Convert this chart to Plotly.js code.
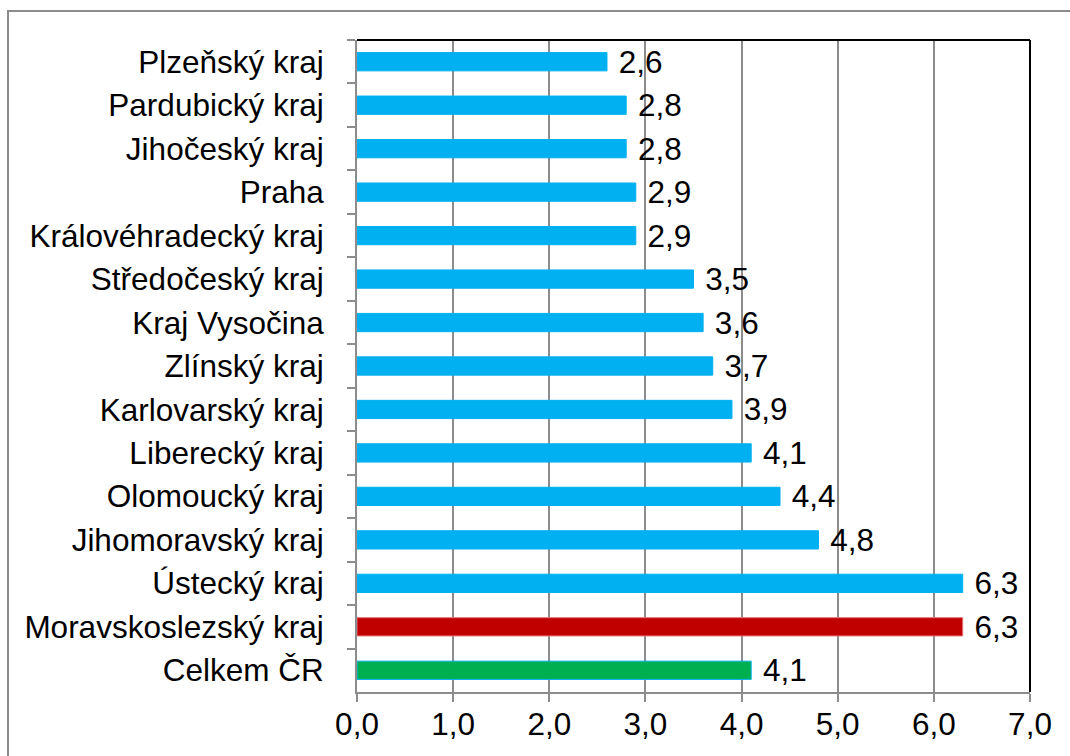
<!DOCTYPE html>
<html>
<head>
<meta charset="utf-8">
<script src="https://cdn.plot.ly/plotly-3.0.1.min.js"></script>
<style>
  html, body { margin: 0; padding: 0; background: #fff; overflow: hidden; }
  #frame { position: absolute; left: 7px; top: 10px; width: 1100px; height: 800px; border: 2px solid #8c8c8c; }
  #chart { position: absolute; left: 0; top: 0; width: 1070px; height: 756px; }
</style>
</head>
<body>
<div id="frame"></div>
<div id="chart"></div>
<script>
const categories = [
  "Plzeňský kraj", "Pardubický kraj", "Jihočeský kraj", "Praha",
  "Královéhradecký kraj", "Středočeský kraj", "Kraj Vysočina", "Zlínský kraj",
  "Karlovarský kraj", "Liberecký kraj", "Olomoucký kraj", "Jihomoravský kraj",
  "Ústecký kraj", "Moravskoslezský kraj", "Celkem ČR"
];
const values = [2.6, 2.8, 2.8, 2.9, 2.9, 3.5, 3.6, 3.7, 3.9, 4.1, 4.4, 4.8, 6.3, 6.3, 4.1];
const xTicks = [0, 1, 2, 3, 4, 5, 6, 7];

const blue = "#00B0F0", red = "#C00000", green = "#00B050";
const barColors = categories.map(c => c === "Moravskoslezský kraj" ? red : (c === "Celkem ČR" ? green : blue));
const lineColors = categories.map(c => c === "Moravskoslezský kraj" ? "#e87070" : blue);

const FONT = "Liberation Sans, Arial, sans-serif";
const FS = 31.5;

const trace = {
  type: "bar",
  orientation: "h",
  y: categories,
  x: values,
  marker: { color: barColors, line: { color: lineColors, width: 1 } },
  width: 0.42,
  text: values,
  texttemplate: " %{x:.1f}",
  textposition: "outside",
  constraintext: "none",
  textfont: { family: FONT, size: FS, color: "#000" },
  cliponaxis: false,
  hoverinfo: "none"
};

const layout = {
  width: 1070, height: 756,
  margin: { l: 357, r: 40, t: 40, b: 64 },
  paper_bgcolor: "rgba(0,0,0,0)",
  plot_bgcolor: "#fff",
  separators: ", ",
  showlegend: false,
  font: { family: FONT, size: FS, color: "#000" },
  xaxis: {
    range: [0, 7],
    tickvals: xTicks,
    tickformat: ".1f",
    showgrid: true, gridcolor: "#8c8c8c", gridwidth: 2,
    showline: true, linecolor: "#8c8c8c", linewidth: 2,
    ticks: "outside", ticklen: 8, tickcolor: "#8c8c8c", tickwidth: 2,
    ticklabelstandoff: -5,
    zeroline: false,
    tickfont: { size: FS },
    fixedrange: true
  },
  yaxis: {
    type: "category",
    autorange: "reversed",
    tickson: "boundaries",
    showgrid: false,
    showline: true, linecolor: "#8c8c8c", linewidth: 2,
    ticks: "outside", ticklen: 8, tickcolor: "#8c8c8c", tickwidth: 2,
    ticklabelstandoff: 25,
    tickfont: { size: FS },
    fixedrange: true
  },
  shapes: [
    { type: "line", xref: "paper", yref: "paper", x0: 0, x1: 1, y0: 1, y1: 1, line: { color: "#000", width: 2 } },
    { type: "line", xref: "paper", yref: "paper", x0: 1, x1: 1, y0: 0, y1: 1, line: { color: "#000", width: 2 } }
  ]
};

Plotly.newPlot("chart", [trace], layout, { displayModeBar: false, staticPlot: true });
</script>
</body>
</html>
